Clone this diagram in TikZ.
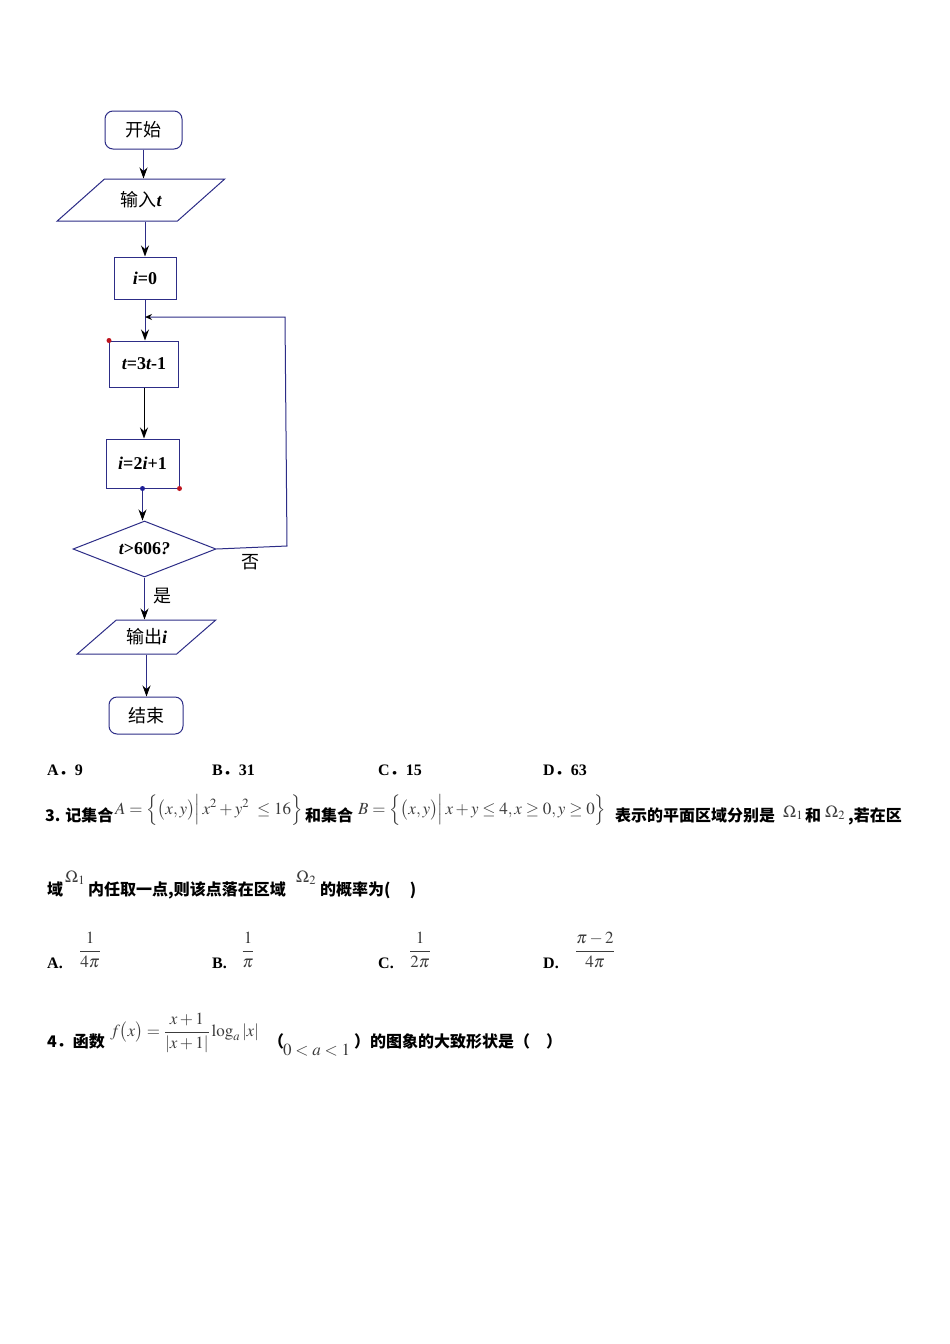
\documentclass[tikz,border=0pt]{standalone}
\usepackage{amsmath}
\usepackage{mathptmx}
\usepackage{fontspec}
\setmainfont{Liberation Serif}
\newfontfamily\cjk{Noto Sans CJK SC}
\usetikzlibrary{arrows.meta,shapes.geometric}
\definecolor{fc}{RGB}{45,45,135}
\definecolor{dotred}{RGB}{190,20,30}
\definecolor{dotblue}{RGB}{30,30,150}
\definecolor{mgray}{RGB}{60,60,60}
\newcommand{\bi}[1]{{\rmfamily\bfseries\itshape #1}}
\newcommand{\bn}[1]{{\rmfamily\bfseries #1}}
\begin{document}
\begin{tikzpicture}[x=1pt,y=-1pt,
  box/.style={draw=fc, line width=1pt, inner sep=0pt, font=\fontsize{18}{21}\selectfont},
  term/.style={box, rounded corners=8pt},
  io/.style={box, trapezium, trapezium left angle=32, trapezium right angle=148, trapezium stretches=true},
  dec/.style={box, diamond, shape aspect=2.55},
  fl/.style={draw=fc, line width=1pt},
  arr/.style={fl, -{Stealth[length=11pt,width=8pt,black]}},
  lab/.style={font=\cjk\fontsize{18}{21}\selectfont, inner sep=0pt},
  qt/.style={anchor=base west, inner sep=0pt, font=\cjk\bfseries\fontsize{16}{20}\selectfont},
  mt/.style={anchor=base west, inner sep=0pt, text=mgray, font=\fontsize{17}{20}\selectfont},
  opt/.style={anchor=base west, inner sep=0pt, font=\bfseries\fontsize{16}{20}\selectfont},
  fr/.style={inner sep=0pt, text=mgray, font=\fontsize{17}{20}\selectfont}]
\useasboundingbox[fill=white] (0,0) rectangle (950,1344);

% ---------- flowchart ----------
\node[term, minimum width=77pt, minimum height=38pt] (s) at (143.5,130) {\cjk 开始};
\node[io, minimum width=168pt, minimum height=42pt] (in) at (141,200) {\cjk 输入\bi{t}};
\node[box, minimum width=62pt, minimum height=42pt] (i0) at (145,278) {\bi{i}\bn{=0}};
\node[box, minimum width=69pt, minimum height=46pt] (t3) at (144,364) {\bi{t}\bn{=3}\bi{t}\bn{-1}};
\node[box, minimum width=73pt, minimum height=49pt] (i2) at (142.5,463.5) {\bi{i}\bn{=2}\bi{i}\bn{+1}};
\node[dec, minimum width=143pt, minimum height=56pt] (d) at (144.5,549) {\bi{t}\bn{>606}\bi{?}};
\node[io, minimum width=139pt, minimum height=34pt] (out) at (146.5,637) {\cjk 输出\bi{i}};
\node[term, minimum width=74pt, minimum height=37pt] (e) at (146,715.5) {\cjk 结束};

\coordinate (c1) at (287,546);
\coordinate (c2) at (285,317);
\coordinate (j) at (145,317);

\draw[arr] (s.south) -- (s.south |- in.north);
\draw[arr] (i0.north |- in.south) -- (i0.north);
\draw[arr] (i0.south) -- (i0.south |- t3.north);
\draw[arr, draw=black] (t3.south) -- (t3.south |- i2.north);
\draw[arr] (i2.south) -- (i2.south |- d.north);
\draw[arr] (d.south) -- (d.south |- out.north);
\draw[arr] (out.south) -- (out.south |- e.north);
\draw[fl, -{Stealth[open,length=7pt,width=6pt,black]}] (d.east) -- (c1) -- (c2) -- (j);

\node[lab] (no) at (250,562) {否};
\node[lab] (yes) at (162,596) {是};

\fill[dotred] (t3.north west) circle (2.5);
\fill[dotred] (i2.south east) circle (2.5);
\fill[dotblue] (i2.south) circle (2.5);

% ---------- options of question 2 ----------
\node[opt] (a2) at (47,775) {A{\cjk ．}9};
\node[opt] (b2) at (212,775) {B{\cjk ．}31};
\node[opt] (c2o) at (378,775) {C{\cjk ．}15};
\node[opt] (d2) at (543,775) {D{\cjk ．}63};

% ---------- question 3 ----------
\node[qt] (q3a) at (45,821) {3. 记集合};
\node[mt] (q3b) at (115,814) {$A=\Bigl\{\bigl(x,y\bigr)\Big|\,x^2+y^2\ \le 16\Bigr\}$};
\node[qt] (q3c) at (305,821) {和集合};
\node[mt] (q3d) at (358,814) {$B=\Bigl\{\bigl(x,y\bigr)\Big|\,x+y\le 4,x\ge 0,y\ge 0\Bigr\}$};
\node[qt] (q3e) at (615,821) {表示的平面区域分别是};
\node[mt] (q3f) at (783,817) {$\Omega_1$};
\node[qt] (q3g) at (805,821) {和};
\node[mt] (q3h) at (825,817) {$\Omega_2$};
\node[qt] (q3i) at (848,821) {,若在区};

\node[qt] (r3a) at (47,895) {域};
\node[mt] (r3b) at (65,882) {$\Omega_1$};
\node[qt] (r3c) at (88,895) {内任取一点,则该点落在区域};
\node[mt] (r3d) at (296,882) {$\Omega_2$};
\node[qt] (r3e) at (320,895) {的概率为(\hspace{1.2em})};

\node[opt] (a3) at (47,968) {A.};
\node[fr] (a3f) at (90,950) {$\dfrac{1}{4\pi}$};
\node[opt] (b3) at (212,968) {B.};
\node[fr] (b3f) at (248,950) {$\dfrac{1}{\pi}$};
\node[opt] (c3) at (378,968) {C.};
\node[fr] (c3f) at (420,950) {$\dfrac{1}{2\pi}$};
\node[opt] (d3) at (543,968) {D.};
\node[fr] (d3f) at (595,950) {$\dfrac{\pi-2}{4\pi}$};

% ---------- question 4 ----------
\node[qt] (q4a) at (47,1047) {4{\cjk ．}函数};
\node[fr, anchor=west] (q4b) at (110,1033) {$f\bigl(x\bigr)=\dfrac{x+1}{|x+1|}\log_a|x|$};
\node[qt] (q4c) at (268,1047) {（};
\node[mt] (q4d) at (283,1055) {$0<a<1$};
\node[qt] (q4e) at (354,1047) {）的图象的大致形状是（\hspace{1em}）};
\end{tikzpicture}
\end{document}
